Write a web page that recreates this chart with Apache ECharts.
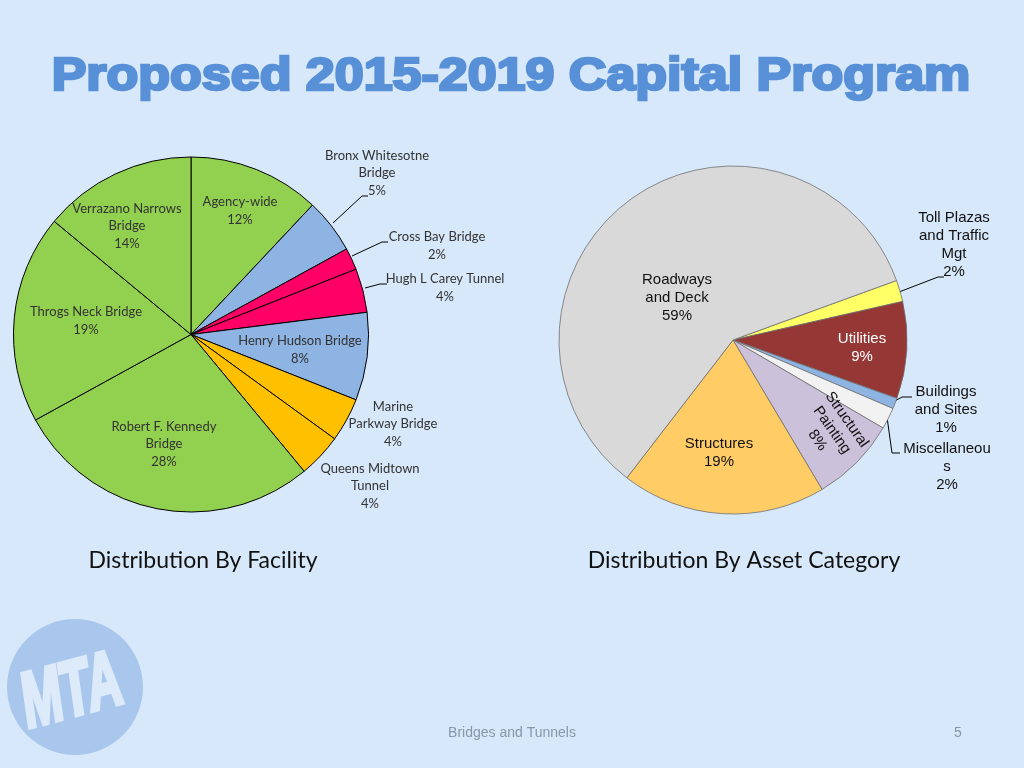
<!DOCTYPE html>
<html>
<head>
<meta charset="utf-8">
<script src="https://cdn.jsdelivr.net/npm/echarts@6/dist/echarts.min.js"></script>
<style>
html,body{margin:0;padding:0;background:#D7E8FA;}
#c{width:1024px;height:768px;}
</style>
</head>
<body>
<div id="c"></div>
<script>
// ---- Data ----
const facilityNames = [
  'Agency-wide', 'Bronx Whitesotne\nBridge', 'Cross Bay Bridge', 'Hugh L Carey Tunnel',
  'Henry Hudson Bridge', 'Marine\nParkway Bridge', 'Queens Midtown\nTunnel',
  'Robert F. Kennedy\nBridge', 'Throgs Neck Bridge', 'Verrazano Narrows\nBridge'
];
const facilityValues = [12, 5, 2, 4, 8, 4, 4, 28, 19, 14];

const assetNames = [
  'Toll Plazas\nand Traffic\nMgt', 'Utilities', 'Buildings\nand Sites', 'Miscellaneou\ns',
  'Structural\nPainting', 'Structures', 'Roadways\nand Deck'
];
const assetValues = [2, 9, 1, 2, 8, 19, 59];

// ---- Styles / layout (kept apart from data) ----
const facilityColors = ['#92D050','#8EB4E3','#FF0066','#FF0066','#8EB4E3','#FFC000','#FFC000','#92D050','#92D050','#92D050'];
const assetColors = ['#FFFF66','#953735','#8EB4E3','#F2F2F2','#CCC1DA','#FFCC66','#D9D9D9'];
const assetTextColors = ['#111','#fff','#111','#111','#111','#111','#111'];

const facLabelAt = [[240,211],[377,173],[437,246],[445,288],[300,350],[393,424],[370,486],[164,444],[86,321],[127,226]];
const facLeaders = {
  1: [[333,223],[362,196],[368,196]],
  2: [[352,256],[382,242],[388,242]],
  3: [[365,288],[380,284],[387,284]]
};
const assetLabelAt = [[954,245],[862,348],[946,410],[947,467],[832,430],[719,453],[677,298]];
const assetRotate = [0,0,0,0,-55,0,0];
const assetLeaders = {
  0: [[899,292],[938,277],[944,277]],
  2: [[893,402],[902,397],[912,397]],
  3: [[887,417],[892,453],[900,453]]
};

const chart = echarts.init(document.getElementById('c'), null, {renderer:'canvas'});

const facData = facilityNames.map((n, i) => ({
  name: n, value: facilityValues[i],
  itemStyle: {color: facilityColors[i]},
  labelLine: {show: facLeaders[i] !== undefined}
}));
const assetData = assetNames.map((n, i) => ({
  name: n, value: assetValues[i],
  itemStyle: {color: assetColors[i]},
  label: {color: assetTextColors[i]},
  labelLine: {show: assetLeaders[i] !== undefined}
}));

const option = {
  backgroundColor: '#D7E8FA',
  animation: false,
  graphic: [
    {
      type: 'circle', shape: {cx: 75, cy: 687, r: 68},
      style: {fill: '#A9C7EC'}, silent: true, z: 0
    },
    {
      type: 'text', x: 72, y: 694, rotation: 0.26, scaleY: 1.45, scaleX: 0.9,
      style: {text: 'MTA', fill: '#DCEAFA', stroke: '#DCEAFA', lineWidth: 3,
        font: 'italic bold 54px "Liberation Sans"',
        textAlign: 'center', textVerticalAlign: 'middle'},
      silent: true, z: 1
    },
    {
      type: 'text', x: 511, y: 77, scaleX: 1.13,
      style: {
        text: 'Proposed 2015-2019 Capital Program',
        font: 'bold 46px "Liberation Sans"',
        fill: '#5890D8', stroke: '#5890D8', lineWidth: 2.6,
        textAlign: 'center', textVerticalAlign: 'middle',
        shadowColor: 'rgba(30,60,120,0.25)', shadowOffsetX: 1, shadowOffsetY: 1, shadowBlur: 1
      }, z: 5
    },
    {
      type: 'text', x: 203, y: 561,
      style: {text: 'Distribution By Facility', font: '23px Lato', fill: '#111',
        textAlign: 'center', textVerticalAlign: 'middle'}
    },
    {
      type: 'text', x: 744, y: 561,
      style: {text: 'Distribution By Asset Category', font: '23px Lato', fill: '#111',
        textAlign: 'center', textVerticalAlign: 'middle'}
    },
    {
      type: 'text', x: 512, y: 733,
      style: {text: 'Bridges and Tunnels', font: '14px "Liberation Sans"', fill: '#8896A8',
        textAlign: 'center', textVerticalAlign: 'middle'}
    },
    {
      type: 'text', x: 958, y: 733,
      style: {text: '5', font: '14px "Liberation Sans"', fill: '#8896A8',
        textAlign: 'center', textVerticalAlign: 'middle'}
    }
  ],
  series: [
    {
      type: 'pie',
      center: [191, 334.5],
      radius: 177.5,
      startAngle: 90,
      clockwise: true,
      avoidLabelOverlap: false,
      emphasis: {disabled: true},
      itemStyle: {borderColor: '#000', borderWidth: 1},
      label: {
        show: true, position: 'outside', overflow: 'none',
        formatter: p => p.name + '\n' + p.value + '%',
        fontFamily: 'Lato', fontSize: 13, lineHeight: 17.5, color: '#333',
        align: 'center'
      },
      labelLine: {lineStyle: {color: '#000', width: 1}, smooth: false},
      labelLayout: function (p) {
        const i = p.dataIndex;
        const o = {x: facLabelAt[i][0], y: facLabelAt[i][1], align: 'center', verticalAlign: 'middle'};
        if (facLeaders[i]) o.labelLinePoints = facLeaders[i];
        return o;
      },
      data: facData
    },
    {
      type: 'pie',
      center: [733, 340],
      radius: 174,
      startAngle: 20,
      clockwise: true,
      avoidLabelOverlap: false,
      emphasis: {disabled: true},
      itemStyle: {borderColor: '#6E6E6E', borderWidth: 0.8},
      label: {
        show: true, position: 'outside', overflow: 'none',
        formatter: p => p.name + '\n' + p.value + '%',
        fontFamily: '"Liberation Sans", Arial', fontSize: 15, lineHeight: 18,
        align: 'center'
      },
      labelLine: {lineStyle: {color: '#000', width: 1}, smooth: false},
      labelLayout: function (p) {
        const i = p.dataIndex;
        const o = {x: assetLabelAt[i][0], y: assetLabelAt[i][1], align: 'center', verticalAlign: 'middle', rotate: assetRotate[i]};
        if (assetLeaders[i]) o.labelLinePoints = assetLeaders[i];
        return o;
      },
      data: assetData
    }
  ]
};
chart.setOption(option);
</script>
</body>
</html>
